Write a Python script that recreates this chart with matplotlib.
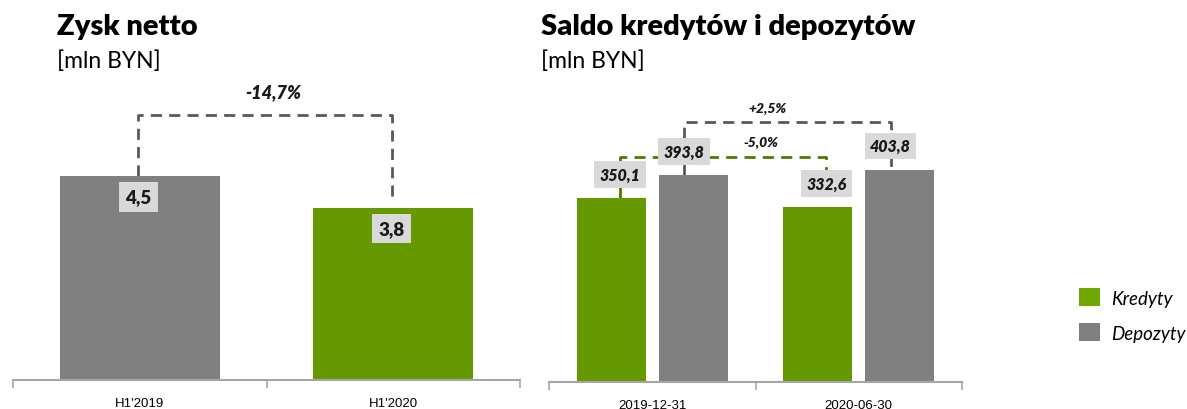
import numpy as np
import matplotlib.pyplot as plt
from matplotlib.patches import Patch

plt.rcParams['font.family'] = ['Lato', 'DejaVu Sans']

# dane - zysk netto
zysk_kat = ["H1'2019", "H1'2020"]
zysk_val = [4.5, 3.8]
zysk_zmiana = "-14,7%"

# dane - kredyty i depozyty
saldo_kat = ["2019-12-31", "2020-06-30"]
kredyty = [350.1, 332.6]
depozyty = [393.8, 403.8]
kred_zmiana = "-5,0%"
depo_zmiana = "+2,5%"

ZIELONY = '#669900'
SZARY = '#808080'
BOX = '#d9d9d9'
OS = '#a6a6a6'

W, H = 1187, 410
fig = plt.figure(figsize=(W / 100, H / 100), dpi=100)


def px_axes(x0, x1, ybase, ytop):
    return fig.add_axes([x0 / W, (H - ybase) / H, (x1 - x0) / W, (ybase - ytop) / H])


def styl_osi(ax, kat):
    for s in ['left', 'right', 'top']:
        ax.spines[s].set_visible(False)
    ax.spines['bottom'].set_color(OS)
    ax.spines['bottom'].set_linewidth(1.5)
    ax.set_yticks([])
    ax.set_xlim(-0.5, len(kat) - 0.5)
    ax.set_xticks(range(len(kat)))
    ax.set_xticklabels(kat, fontsize=9.5, family=['Liberation Sans Narrow', 'Liberation Sans'])
    ax.tick_params(axis='x', which='major', length=0, pad=12)
    ax.set_xticks(np.arange(-0.5, len(kat)), minor=True)
    ax.tick_params(axis='x', which='minor', length=6, color=OS, width=1.2)


def etykieta(ax, x, y, txt, dx, dy, size, italic):
    ax.annotate(txt, (x, y), xytext=(dx, dy), textcoords='offset pixels',
                ha='center', va='center', fontsize=size, fontweight='heavy',
                fontstyle='italic' if italic else 'normal', color='#1a1a1a',
                bbox=dict(boxstyle='square,pad=0.33', fc=BOX, ec='none'),
                zorder=5, annotation_clip=False)


def lacznik(ax, x0, x1, y, b0, b1, kolor):
    ax.plot([x0, x0, x1, x1], [b0, y, y, b1], ls=(0, (4, 2.6)), lw=2,
            color=kolor, zorder=1, clip_on=False)


# --- Zysk netto ---
ax1 = px_axes(13, 520, 381, 109)
ax1.set_ylim(0, 6.0)
ax1.bar(range(2), zysk_val, width=0.63, color=[SZARY, ZIELONY], zorder=2)
styl_osi(ax1, zysk_kat)
dxl = -0.006
lacznik(ax1, 0 + dxl, 1 + dxl, 5.85, zysk_val[0], zysk_val[1] + 0.24, '#595959')
for i, v in enumerate(zysk_val):
    etykieta(ax1, i + dxl, v, f"{v:.1f}".replace('.', ','), 0, -21, 13.5, False)
ax1.text(0.526, 6.36, zysk_zmiana, ha='center', va='center', fontsize=13,
         fontweight='heavy', fontstyle='italic', color='#1a1a1a')

fig.text(57 / W, 1 - 27 / H, 'Zysk netto', fontsize=21, fontweight='heavy', va='center')
fig.text(57 / W, 1 - 61 / H, '[mln BYN]', fontsize=16.5, va='center')

# --- Saldo kredytów i depozytów ---
ax2 = px_axes(549, 962, 383, 120)
ax2.set_ylim(0, 500)
x = np.arange(2)
bw = 0.334
off = 0.198
ax2.bar(x - off, kredyty, width=bw, color=ZIELONY, zorder=2)
ax2.bar(x + off, depozyty, width=bw, color=SZARY, zorder=2)
styl_osi(ax2, saldo_kat)

gx = x + off - 0.044
kx = x - off + 0.041
lacznik(ax2, gx[0], gx[1], 495, depozyty[0], depozyty[1], '#595959')
lacznik(ax2, kx[0], kx[1], 428, kredyty[0], kredyty[1] + 10, '#4d7a00')
for i in range(2):
    etykieta(ax2, kx[i], kredyty[i], f"{kredyty[i]:.1f}".replace('.', ','), 0, 23.5, 11.5, True)
    etykieta(ax2, gx[i], depozyty[i], f"{depozyty[i]:.1f}".replace('.', ','), 0, 23.5, 11.5, True)
ax2.text(0.556, 521, depo_zmiana, ha='center', va='center', fontsize=10,
         fontweight='heavy', fontstyle='italic', color='#1a1a1a')
ax2.text(0.527, 457, kred_zmiana, ha='center', va='center', fontsize=10,
         fontweight='heavy', fontstyle='italic', color='#1a1a1a')

fig.text(541 / W, 1 - 27 / H, 'Saldo kredytów i depozytów', fontsize=21, fontweight='heavy', va='center')
fig.text(541 / W, 1 - 61 / H, '[mln BYN]', fontsize=16.5, va='center')

uchwyty = [Patch(fc='#70a800', ec='none', label='Kredyty'),
           Patch(fc=SZARY, ec='none', label='Depozyty')]
fig.legend(handles=uchwyty, loc='center left', bbox_to_anchor=(1062 / W, 1 - 316 / H),
           frameon=False, prop=dict(size=13.5, style='italic'),
           handlelength=1.1, handleheight=1.1, labelspacing=0.9, handletextpad=0.6)

fig.savefig('out.png', dpi=100)
